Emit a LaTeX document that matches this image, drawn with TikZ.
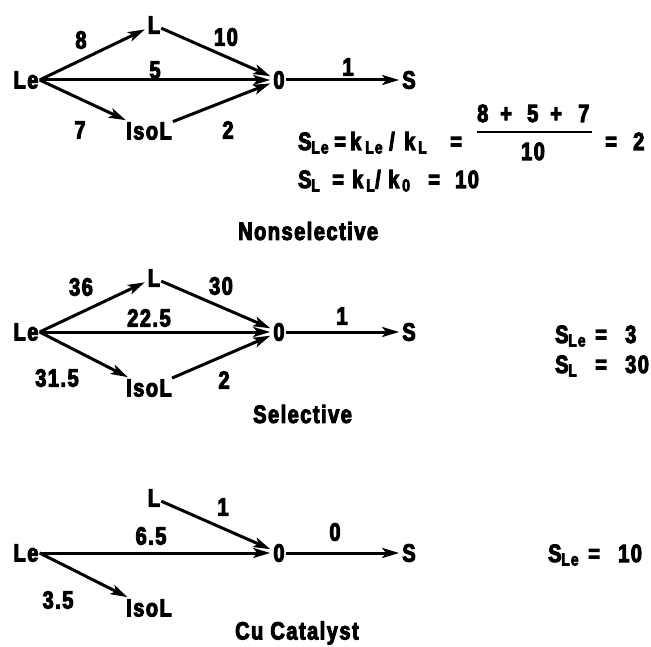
\documentclass[tikz,border=0pt]{standalone}
\usepackage{fontspec}
\setmainfont{Liberation Sans}[FakeStretch=0.8,LetterSpace=6,FakeBold=4]
\usetikzlibrary{arrows.meta}
\newcommand{\sbx}[1]{\raisebox{-3.5pt}{\fontsize{17.5}{17.5}\selectfont #1}}
\newcommand{\tk}[2]{\makebox[#1][l]{#2}}
\tikzset{
  txt/.style={font=\bfseries\fontsize{25}{25}\selectfont, inner sep=1pt},
  lbl/.style={font=\bfseries\fontsize{25}{25}\selectfont, inner sep=0pt},
  frm/.style={font=\bfseries\fontsize{25}{25}\selectfont, inner sep=0pt, anchor=base west},
  arr/.style={line width=3pt, shorten >=2pt, -{Stealth[length=17pt,width=10pt,inset=4pt]}}
}
\begin{document}
\begin{tikzpicture}[x=1pt,y=-1pt]
\useasboundingbox (0,0) rectangle (651,647);
% ---------- Nonselective ----------
\node[txt] (Le1) at (26,80) {Le};
\node[txt] (L1) at (154,25) {L};
\node[txt] (O1) at (279,80) {0};
\node[txt] (I1) at (149,131) {IsoL};
\node[txt] (S1) at (409,80) {S};
\draw[arr] (Le1.east) -- (L1);
\draw[arr] (L1) -- (O1);
\draw[arr] (Le1.east) -- (O1);
\draw[arr] (Le1.east) -- (I1);
\draw[arr] (I1) -- (O1);
\draw[arr] (O1) -- (S1);
\node[lbl] (a8) at (81,40) {8};
\node[lbl] (a10) at (226,37) {10};
\node[lbl] (a5) at (155,70) {5};
\node[lbl] (a7) at (80,130) {7};
\node[lbl] (a2) at (228,130) {2};
\node[lbl] (a1) at (348,67) {1};
\node[frm] (f1) at (298,150) {\tk{13pt}{S}\tk{23pt}{\sbx{Le}}\tk{16pt}{=}\tk{15pt}{k}\tk{24pt}{\sbx{Le}}\tk{15pt}{/}\tk{14pt}{k}\tk{32pt}{\sbx{L}}=};
\node[frm] (fnum) at (477,122) {\tk{23pt}{8}\tk{27pt}{+}\tk{23pt}{5}\tk{28pt}{+}7};
\coordinate (barL) at (477,132);
\coordinate (barR) at (592,132);
\draw[line width=2.4pt] (barL) -- (barR);
\node[lbl, anchor=base] (fden) at (533,160) {10};
\node[frm] (f2) at (605,150) {\tk{28pt}{=}2};
\node[frm] (f3) at (298,188) {\tk{13pt}{S}\tk{21pt}{\sbx{L}}\tk{20pt}{=}\tk{14pt}{k}\tk{9pt}{\sbx{L}}\tk{13pt}{/}\tk{14pt}{k}\tk{26pt}{\sbx{0}}\tk{27pt}{=}10};
\node[lbl, anchor=west] (t1) at (238,231) {Nonselective};
% ---------- Selective ----------
\node[txt] (Le2) at (26,332) {Le};
\node[txt] (L2) at (154,278) {L};
\node[txt] (O2) at (279,332) {0};
\node[txt] (I2) at (149,388) {IsoL};
\node[txt] (S2) at (409,332) {S};
\draw[arr] (Le2.east) -- (L2);
\draw[arr] (L2) -- (O2);
\draw[arr] (Le2.east) -- (O2);
\draw[arr] (Le2.east) -- (I2);
\draw[arr] (I2) -- (O2);
\draw[arr] (O2) -- (S2);
\node[lbl] (b36) at (81,287) {36};
\node[lbl] (b30) at (221,286) {30};
\node[lbl] (b225) at (149,318) {22.5};
\node[lbl] (b315) at (57,378) {31.5};
\node[lbl] (b2) at (224,380) {2};
\node[lbl] (b1) at (342,316) {1};
\node[frm] (g1) at (555,343) {\tk{13pt}{S}\tk{27pt}{\sbx{Le}}\tk{30pt}{=}3};
\node[frm] (g2) at (555,373) {\tk{13pt}{S}\tk{27pt}{\sbx{L}}\tk{30pt}{=}30};
\node[lbl, anchor=west] (t2) at (253,414) {Selective};
% ---------- Cu Catalyst ----------
\node[txt] (Le3) at (26,553) {Le};
\node[txt] (L3) at (154,498) {L};
\node[txt] (O3) at (279,553) {0};
\node[txt] (I3) at (149,608) {IsoL};
\node[txt] (S3) at (409,553) {S};
\draw[arr] (L3) -- (O3);
\draw[arr] (Le3.east) -- (O3);
\draw[arr] (Le3.east) -- (I3);
\draw[arr] (O3) -- (S3);
\node[lbl] (c1) at (223,507) {1};
\node[lbl] (c65) at (151,536) {6.5};
\node[lbl] (c35) at (58,600) {3.5};
\node[lbl] (c0) at (335,532) {0};
\node[frm] (h1) at (548,562) {\tk{13pt}{S}\tk{27pt}{\sbx{Le}}\tk{30pt}{=}10};
\node[lbl, anchor=west] (t3) at (235,633) {Cu Catalyst};
\end{tikzpicture}
\end{document}
